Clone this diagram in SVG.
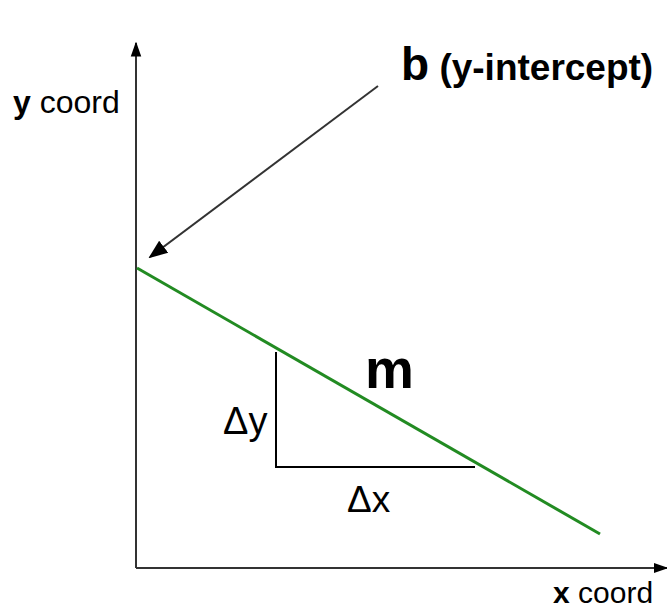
<svg xmlns="http://www.w3.org/2000/svg" width="667" height="608" viewBox="0 0 667 608">
<defs>
<marker id="ah" viewBox="0 0 10 10" refX="9" refY="5" markerWidth="15" markerHeight="15" markerUnits="userSpaceOnUse" orient="auto"><path d="M0,1.5 L10,5 L0,8.5 z" fill="#000"/></marker>
<marker id="ah2" viewBox="0 0 10 10" refX="9" refY="5" markerWidth="19" markerHeight="19" markerUnits="userSpaceOnUse" orient="auto"><path d="M0,1 L10,5 L0,9 z" fill="#000"/></marker>
</defs>
<style>
text{font-family:"Liberation Sans",Arial,sans-serif;fill:#000}
.ax{stroke:#333;stroke-width:2;fill:none}
</style>
<rect width="667" height="608" fill="#fff"/>
<g id="connectors">
<line class="ax" x1="136" y1="568" x2="136" y2="43" marker-end="url(#ah)"/>
<line class="ax" x1="136" y1="568" x2="667" y2="568" marker-end="url(#ah)"/>
<line x1="378" y1="86" x2="150" y2="257" stroke="#333" stroke-width="2" marker-end="url(#ah2)"/>
<line x1="137" y1="268" x2="600" y2="534" stroke="#228b22" stroke-width="3"/>
<polyline points="276,352 276,467 475,467" fill="none" stroke="#000" stroke-width="2"/>
</g>
<g id="ylabel"><text x="13" y="113" font-size="32"><tspan font-weight="bold">y</tspan> coord</text></g>
<g id="xlabel"><text x="553" y="603" font-size="30"><tspan font-weight="bold">x</tspan> coord</text></g>
<g id="blabel"><text x="401" y="80" font-weight="bold"><tspan font-size="46">b</tspan><tspan font-size="37"> (y-intercept)</tspan></text></g>
<g id="mlabel"><text x="365" y="388" font-size="55" font-weight="bold">m</text></g>
<g id="dy"><text x="223" y="434" font-size="38">Δy</text></g>
<g id="dx"><text x="347" y="512" font-size="37">Δx</text></g>
</svg>
